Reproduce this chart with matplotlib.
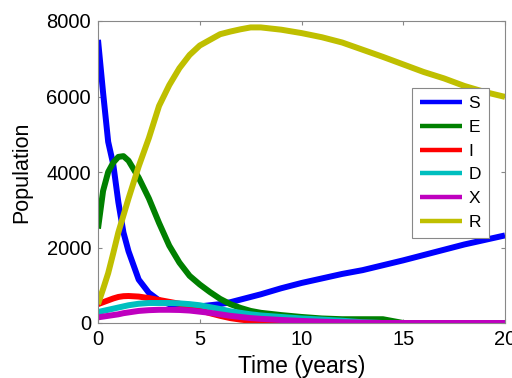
import matplotlib
matplotlib.use("Agg")
import matplotlib.pyplot as plt

# Time points (years) and population of each compartment
t = [0, 0.25, 0.5, 0.75, 1, 1.25, 1.5, 2, 2.5, 3, 3.5, 4, 4.5, 5, 5.5, 6, 6.5,
     7, 7.5, 8, 9, 10, 11, 12, 13, 14, 15, 16, 17, 18, 19, 20]
S = [7500, 6100, 4800, 4200, 3200, 2400, 1900, 1150, 800, 600, 500, 460, 440,
     440, 470, 500, 550, 620, 690, 760, 920, 1060, 1180, 1300, 1400, 1530,
     1660, 1800, 1940, 2080, 2200, 2320]
E = [2500, 3500, 4000, 4250, 4400, 4420, 4300, 3850, 3300, 2650, 2050, 1600,
     1250, 1020, 820, 640, 500, 400, 320, 270, 210, 160, 120, 100, 100, 100,
     0, 0, 0, 0, 0, 0]
I = [500, 550, 600, 650, 690, 710, 715, 700, 660, 610, 560, 510, 430, 340,
     260, 190, 130, 90, 60, 40, 20, 0, 0, 0, 0, 0, 0, 0, 0, 0, 0, 0]
D = [290, 320, 350, 380, 410, 440, 470, 510, 530, 530, 530, 520, 500, 470,
     420, 370, 310, 270, 230, 200, 160, 120, 90, 60, 20, 0, 0, 0, 0, 0, 0, 0]
X = [150, 170, 190, 210, 230, 260, 280, 320, 340, 350, 350, 345, 330, 300,
     270, 230, 190, 160, 130, 110, 80, 55, 35, 20, 10, 0, 0, 0, 0, 0, 0, 0]
R = [500, 900, 1320, 1850, 2400, 2850, 3300, 4150, 4900, 5750, 6300, 6750,
     7100, 7350, 7500, 7650, 7720, 7780, 7830, 7830, 7770, 7680, 7570, 7430,
     7240, 7050, 6850, 6650, 6480, 6280, 6120, 5990]

series = [("S", S, "b"), ("E", E, "g"), ("I", I, "r"),
          ("D", D, "c"), ("X", X, "m"), ("R", R, "y")]

plt.rcParams["font.family"] = ["Liberation Sans", "DejaVu Sans"]
plt.rcParams["font.size"] = 14

fig = plt.figure(figsize=(5.12, 3.78), dpi=100)
ax = fig.add_axes([98 / 512, 1 - 323 / 378, 407 / 512, 302 / 378])

for name, vals, col in series:
    ax.plot(t, vals, color=col, lw=4.3, label=name, solid_capstyle="butt")

ax.set_xlim(0, 20)
ax.set_ylim(0, 8000)
ax.set_xticks([0, 5, 10, 15, 20])
ax.set_yticks([0, 2000, 4000, 6000, 8000])
ax.set_xlabel("Time (years)", fontsize=16.5, labelpad=4)
ax.set_ylabel("Population", fontsize=15.5, labelpad=10)
ax.tick_params(direction="in", length=3, color="#888888", top=True,
               right=True, labelsize=14.5)
ax.tick_params(axis="x", pad=5)
ax.tick_params(axis="y", pad=5)
for sp in ax.spines.values():
    sp.set_color("#888888")
    sp.set_linewidth(0.8)

leg = ax.legend(loc="upper left", bbox_to_anchor=(412 / 512, 1 - 88 / 378),
                bbox_transform=fig.transFigure, borderaxespad=0,
                fancybox=False, framealpha=1, edgecolor="#888888",
                fontsize=12.5, handlelength=2.45, handletextpad=0.35,
                labelspacing=0.5, borderpad=0.45)
leg.get_frame().set_linewidth(0.8)
for h in leg.get_lines():
    h.set_linewidth(3.2)

fig.savefig("out.png", dpi=100)
